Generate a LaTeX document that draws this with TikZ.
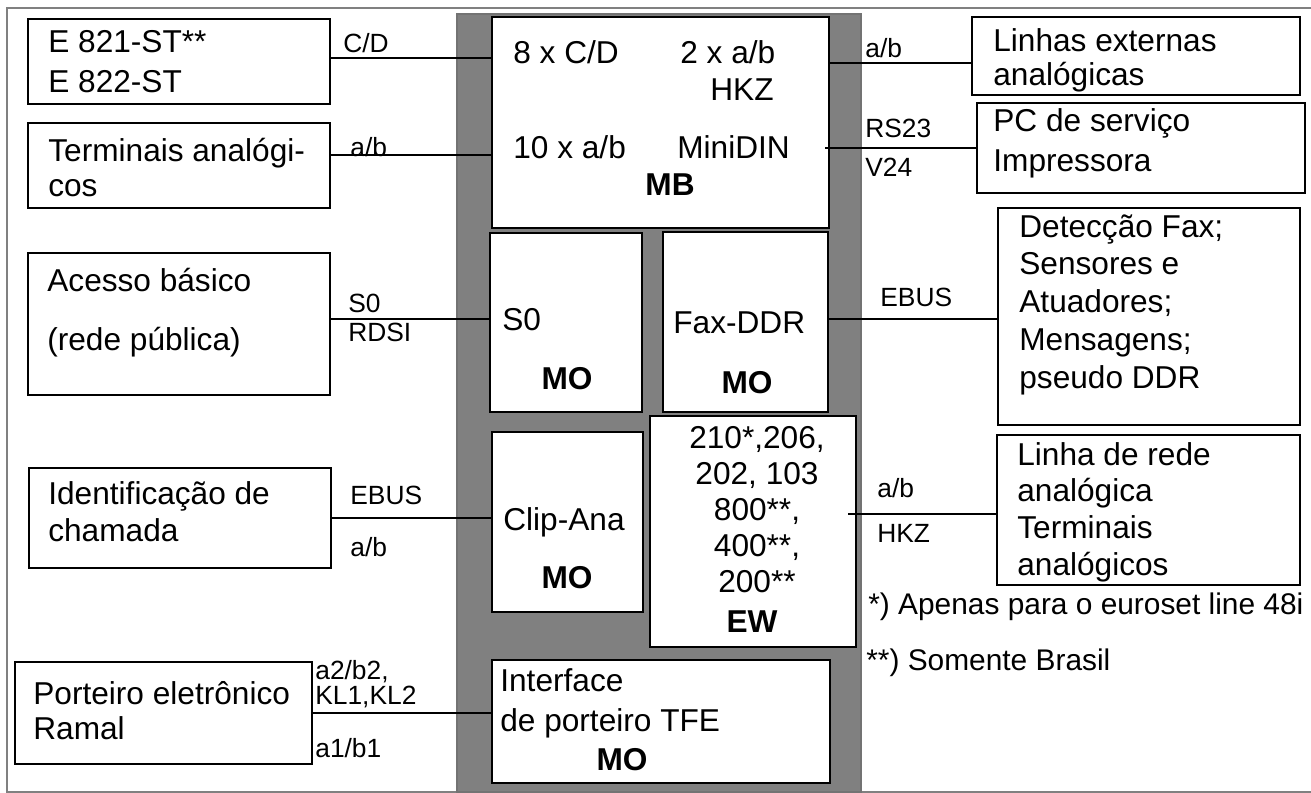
\documentclass[tikz,border=0pt]{standalone}
\usepackage{fontspec}
\setmainfont{Liberation Sans}
\usetikzlibrary{positioning,fit}
\definecolor{framegray}{HTML}{808080}
\definecolor{basegray}{HTML}{808080}

\begin{document}
\begin{tikzpicture}[
  x=0.02cm, y=-0.02cm,
  box/.style={draw, line width=1.1pt, fill=white, inner sep=0pt},
  wire/.style={line width=1.1pt},
  txt/.style={anchor=west, align=left, inner sep=0pt, font=\fontsize{18}{#1}\selectfont},
  txt/.default=22,
  tag/.style={inner sep=0pt, font=\fontsize{18}{22}\selectfont\bfseries},
  lbl/.style={anchor=west, inner sep=0pt, font=\fontsize{15}{17}\selectfont},
  note/.style={anchor=west, inner sep=0pt, font=\fontsize{17}{20}\selectfont},
]
\useasboundingbox (0,0) rectangle (1311,793);

% frame and base board
\draw[framegray, line width=0.6pt] (1320,8) -- (7,8) -- (7,792) -- (1320,792);
\node[fill=basegray, draw=black!55, line width=0.6pt, inner sep=0pt, fit={(457,14) (861,792)}] (base) {};

% modules
\node[box, fit={(492,17) (829,228)}] (mb) {};
\node[box, fit={(490,233) (642,412)}] (mo1) {};
\node[box, fit={(663,232) (828,412)}] (mo2) {};
\node[box, fit={(492,432) (643,612)}] (mo3) {};
\node[box, fit={(650,416) (856,647)}] (ew) {};
\node[box, fit={(492,660) (830,783)}] (mo4) {};

% external units
\node[box, fit={(28,19) (330,104)}] (ext1) {};
\node[box, fit={(28,123) (330,208)}] (ext2) {};
\node[box, fit={(28,253) (330,395)}] (ext3) {};
\node[box, fit={(29,468) (331,568)}] (ext4) {};
\node[box, fit={(15,662) (312,764)}] (ext5) {};
\node[box, fit={(972,17) (1300,95)}] (ext6) {};
\node[box, fit={(977,103) (1305,193)}] (ext7) {};
\node[box, fit={(998,208) (1300,425)}] (ext8) {};
\node[box, fit={(997,435) (1300,585)}] (ext9) {};

% ports
\coordinate (pCD) at (492,58);
\coordinate (pAB) at (492,155);
\coordinate (pHKZ) at (829,63);
\coordinate (pDIN) at (825,148);
\coordinate (pS0) at (490,319);
\coordinate (pFax) at (828,319);
\coordinate (pEW) at (848,514);

% connections
\draw[wire] (ext1.east |- pCD) -- (pCD);
\draw[wire] (ext2.east |- pAB) -- (pAB);
\draw[wire] (pHKZ) -- (pHKZ -| ext6.west);
\draw[wire] (pDIN) -- (pDIN -| ext7.west);
\draw[wire] (ext3.east |- pS0) -- (pS0);
\draw[wire] (pFax) -- (pFax -| ext8.west);
\draw[wire] (ext4.east) -- (ext4.east -| mo3.west);
\draw[wire] (pEW) -- (pEW -| ext9.west);
\draw[wire] (ext5.east) -- (ext5.east -| mo4.west);

% texts of the external units
\node[txt=22.8] (t1) at (48,62) {E 821-ST**\\E 822-ST};
\node[txt=20] (t2) at (48,167.5) {Terminais analógi-\\cos};
\node[txt=33.6] (t3) at (47,312.5) {Acesso básico\\(rede pública)};
\node[txt=21] (t4) at (48,511.5) {Identificação de\\chamada};
\node[txt=20] (t5) at (33,710.5) {Porteiro eletrônico\\Ramal};
\node[txt=19.4] (t6) at (993,60) {Linhas externas\\analógicas};
\node[txt=22.8] (t7) at (993,143) {PC de serviço\\Impressora};
\node[txt=21.5] (t8) at (1019,304.5) {Detecção Fax;\\Sensores e\\Atuadores;\\Mensagens;\\pseudo DDR};
\node[txt=20.9] (t9) at (1017,512) {Linha de rede\\analógica\\Terminais\\analógicos};

% texts of the modules
\node[txt] (m1) at (513,52) {8 x C/D};
\node[txt] (m2) at (680,52) {2 x a/b};
\node[txt] (m3) at (710,90) {HKZ};
\node[txt] (m4) at (513,147) {10 x a/b};
\node[txt] (m5) at (677,147) {MiniDIN};
\node[tag] (mbt) at (670,185) {MB};
\node[txt] (s0t) at (502,320) {S0};
\node[tag] (mo1t) at (567,379) {MO};
\node[txt] (faxt) at (673,323) {Fax-DDR};
\node[tag] (mo2t) at (747,383) {MO};
\node[txt] (clipt) at (503,522) {Clip-Ana};
\node[tag] (mo3t) at (567,578) {MO};
\node[txt=20.6, anchor=center, align=center] (ewl) at (757,509.5) {210*,206,\\202, 103\\800**,\\400**,\\200**};
\node[tag] (ewt) at (752,622) {EW};
\node[txt=22.8] (tfet) at (500,703) {Interface\\de porteiro TFE};
\node[tag] (mo4t) at (622,760) {MO};

% line labels
\node[lbl] (lCD) at (343,43) {C/D};
\node[lbl] (lAB) at (350,147) {a/b};
\node[lbl] (lAB2) at (865,48) {a/b};
\node[lbl] (lRS) at (865,128) {RS23};
\node[lbl] (lV24) at (865,167) {V24};
\node[lbl] (lS0) at (348,303) {S0};
\node[lbl] (lRDSI) at (348,332) {RDSI};
\node[lbl] (lEBUS) at (880,297) {EBUS};
\node[lbl] (lEBUS2) at (350,495) {EBUS};
\node[lbl] (lAB3) at (350,547) {a/b};
\node[lbl] (lAB4) at (877,488) {a/b};
\node[lbl] (lHKZ) at (877,533) {HKZ};
\node[lbl, align=left, font=\fontsize{15}{14.2}\selectfont] (lKL) at (315,684.5) {a2/b2,\\KL1,KL2};
\node[lbl] (lAB5) at (315,748) {a1/b1};

% footnotes
\node[note] (n1) at (868,607) {*) Apenas para o euroset line 48i};
\node[note] (n2) at (866,663) {**) Somente Brasil};

\end{tikzpicture}
\end{document}
